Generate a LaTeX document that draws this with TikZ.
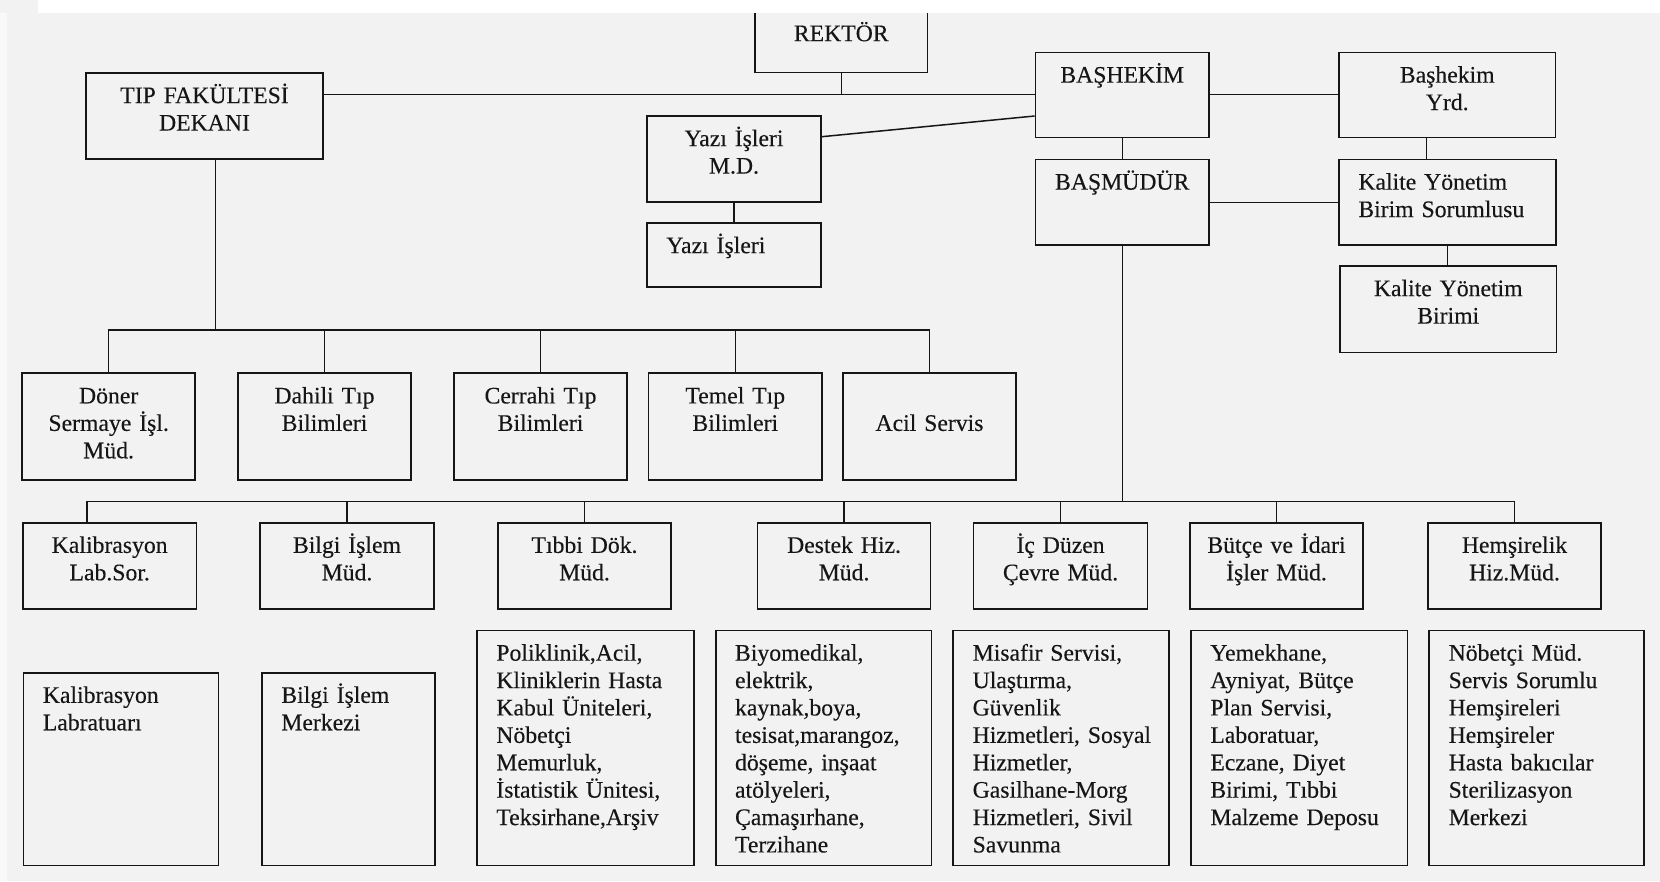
\documentclass[tikz,border=0pt]{standalone}
\usepackage{fontspec}
\setmainfont{Liberation Serif}[FakeBold=0.25]
\definecolor{ink}{RGB}{22,22,22}
\definecolor{paper}{RGB}{242,242,242}
\definecolor{edge}{RGB}{249,249,249}
% a framed box given by its corners (x1,y1) and (x2,y2)
\newcommand{\orgbox}[5]{%
  \node[frame, minimum width={#4-(#2)}, minimum height={#5-(#3)}] (#1) at ({(#2+#4)/2},{(#3+#5)/2}) {};}
% centred caption at the top of a box
\newcommand{\ctitle}[2]{\node[ctext] (#1-t) at ([yshift=-31pt]#1.north) {#2};}
% left-aligned caption at the top of a box
\newcommand{\ltitle}[2]{\node[ltext] (#1-t) at ([xshift=20pt,yshift=-31pt]#1.north west) {#2};}
\begin{document}
\begin{tikzpicture}[x=1pt,y=-1pt,
  frame/.style={draw=ink, line width=1.7pt, rectangle, inner sep=0pt},
  link/.style={draw=ink, line width=1.5pt},
  ctext/.style={font=\fontsize{23.7}{27.4}\selectfont, text=ink, inner sep=0pt,
    align=center, text width=260pt, anchor=base},
  ltext/.style={font=\fontsize{23.7}{27.4}\selectfont, text=ink, inner sep=0pt,
    align=left, text width=300pt, anchor=base west}]
\useasboundingbox (0,0) rectangle (1660,881);
\fill[paper] (0,0) rectangle (1660,881);
\fill[edge] (0,13) rectangle (7,881);

% upper management
\orgbox{rektor}{755}{11}{927.5}{72.5}
\orgbox{dekan}{86}{73}{323}{159}
\orgbox{yimd}{647}{116}{821}{202}
\orgbox{yazi}{647}{223}{821}{287}
\orgbox{bashekim}{1035.5}{52.5}{1209}{137.5}
\orgbox{yrd}{1339}{52.5}{1555.5}{137.5}
\orgbox{basmudur}{1035.5}{159.5}{1209}{245}
\orgbox{kybs}{1339}{159.5}{1556}{245}
\orgbox{kyb}{1340}{266}{1556.5}{352.5}

% faculty units
\orgbox{doner}{22}{373.3}{195.3}{480}
\orgbox{dahili}{238}{373.3}{411}{480}
\orgbox{cerrahi}{454}{373.3}{627}{480}
\orgbox{temel}{648.5}{373.3}{822}{480}
\orgbox{acil}{843}{373.3}{1016}{480}

% directorates
\orgbox{kal}{23}{522.7}{196.4}{609}
\orgbox{bilgi}{260}{522.7}{434}{609}
\orgbox{tibbi}{498}{522.7}{671}{609}
\orgbox{destek}{757.5}{522.7}{930.6}{609}
\orgbox{icduzen}{973.5}{522.7}{1147.6}{609}
\orgbox{butce}{1190}{522.7}{1363}{609}
\orgbox{hemsire}{1428}{522.7}{1601}{609}

% services under each directorate
\orgbox{kallab}{23.5}{672.7}{218.6}{865.5}
\orgbox{bilgimer}{262}{672.7}{435}{865.5}
\orgbox{polik}{477}{630.5}{694}{865.5}
\orgbox{biyo}{715.7}{630.5}{931.6}{865.5}
\orgbox{misafir}{953.3}{630.5}{1169.3}{865.5}
\orgbox{yemek}{1191}{630.5}{1407.5}{865.5}
\orgbox{nobet}{1429.3}{630.5}{1644}{865.5}

% connectors
\coordinate (hline) at (0,94.3);
\coordinate (dgA) at (0,136.7);
\coordinate (dgB) at (0,116);
\coordinate (mline) at (0,202.3);
\coordinate (yrddrop) at (1426.6,0);
\coordinate (busA) at (0,330);
\coordinate (dekdrop) at (215.3,0);
\coordinate (busB) at (0,501.7);
\coordinate (kaldrop) at (87,0);

\draw[link] (dekan.east |- hline) -- (bashekim.west |- hline);
\draw[link] (bashekim.east |- hline) -- (yrd.west |- hline);
\draw[link] (rektor.south) -- (rektor.south |- hline);
\draw[link] (yimd.east |- dgA) -- (bashekim.west |- dgB);
\draw[link] (yimd.south) -- (yazi.north);
\draw[link] (bashekim.south) -- (basmudur.north);
\draw[link] (basmudur.east |- mline) -- (kybs.west |- mline);
\draw[link] (yrddrop |- yrd.south) -- (yrddrop |- kybs.north);
\draw[link] (kybs.south) -- (kybs.south |- kyb.north);

\draw[link] (dekdrop |- dekan.south) -- (dekdrop |- busA);
\draw[link] (doner.north) -- (doner.north |- busA) -- (acil.north |- busA) -- (acil.north);
\foreach \n in {dahili,cerrahi,temel} \draw[link] (\n.north) -- (\n.north |- busA);

\draw[link] (basmudur.south) -- (basmudur.south |- busB);
\draw[link] (kaldrop |- kal.north) -- (kaldrop |- busB) -- (hemsire.north |- busB) -- (hemsire.north);
\foreach \n in {bilgi,tibbi,destek,icduzen,butce} \draw[link] (\n.north) -- (\n.north |- busB);

% blank strip along the top edge of the sheet
\fill[white] (38,0) rectangle (1660,13);

% captions
\ctitle{rektor}{REKTÖR}
\ctitle{dekan}{TIP FAKÜLTESİ\\DEKANI}
\ctitle{yimd}{Yazı İşleri\\M.D.}
\ltitle{yazi}{Yazı İşleri}
\ctitle{bashekim}{BAŞHEKİM}
\ctitle{yrd}{Başhekim\\Yrd.}
\ctitle{basmudur}{BAŞMÜDÜR}
\ltitle{kybs}{Kalite Yönetim\\Birim Sorumlusu}
\ctitle{kyb}{Kalite Yönetim\\Birimi}

\ctitle{doner}{Döner\\Sermaye İşl.\\Müd.}
\ctitle{dahili}{Dahili Tıp\\Bilimleri}
\ctitle{cerrahi}{Cerrahi Tıp\\Bilimleri}
\ctitle{temel}{Temel Tıp\\Bilimleri}
\node[ctext] (acil-t) at ([yshift=-58.4pt]acil.north) {Acil Servis};

\ctitle{kal}{Kalibrasyon\\Lab.Sor.}
\ctitle{bilgi}{Bilgi İşlem\\Müd.}
\ctitle{tibbi}{Tıbbi Dök.\\Müd.}
\ctitle{destek}{Destek Hiz.\\Müd.}
\ctitle{icduzen}{İç Düzen\\Çevre Müd.}
\ctitle{butce}{Bütçe ve İdari\\İşler Müd.}
\ctitle{hemsire}{Hemşirelik\\Hiz.Müd.}

\ltitle{kallab}{Kalibrasyon\\Labratuarı}
\ltitle{bilgimer}{Bilgi İşlem\\Merkezi}
\ltitle{polik}{Poliklinik,Acil,\\Kliniklerin Hasta\\Kabul Üniteleri,\\Nöbetçi\\Memurluk,\\İstatistik Ünitesi,\\Teksirhane,Arşiv}
\ltitle{biyo}{Biyomedikal,\\elektrik,\\kaynak,boya,\\tesisat,marangoz,\\döşeme, inşaat\\atölyeleri,\\Çamaşırhane,\\Terzihane}
\ltitle{misafir}{Misafir Servisi,\\Ulaştırma,\\Güvenlik\\Hizmetleri, Sosyal\\Hizmetler,\\Gasilhane-Morg\\Hizmetleri, Sivil\\Savunma}
\ltitle{yemek}{Yemekhane,\\Ayniyat, Bütçe\\Plan Servisi,\\Laboratuar,\\Eczane, Diyet\\Birimi, Tıbbi\\Malzeme Deposu}
\ltitle{nobet}{Nöbetçi Müd.\\Servis Sorumlu\\Hemşireleri\\Hemşireler\\Hasta bakıcılar\\Sterilizasyon\\Merkezi}
\end{tikzpicture}
\end{document}
